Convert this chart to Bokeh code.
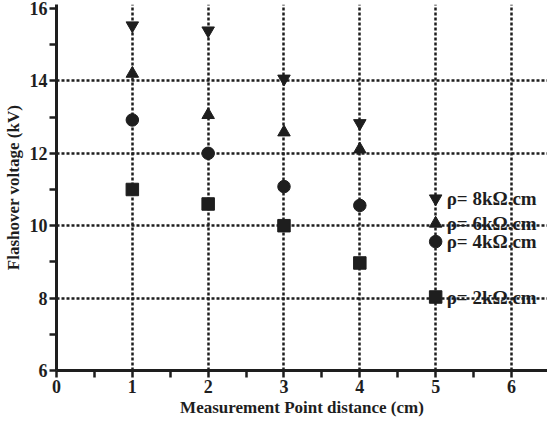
from bokeh.plotting import figure
from bokeh.models import FixedTicker, Range1d
from bokeh.core.properties import value
from bokeh.embed import file_html
from bokeh.resources import INLINE

# Data
distance = [1, 2, 3, 4]
v_8k = [15.53, 15.39, 14.06, 12.83]
v_6k = [14.2, 13.06, 12.58, 12.11]
v_4k = [12.92, 12.0, 11.08, 10.56]
v_2k = [11.0, 10.6, 10.0, 8.97]

series_labels = ["ρ= 8kΩ.cm", "ρ= 6kΩ.cm", "ρ= 4kΩ.cm", "ρ= 2kΩ.cm"]
series_markers = ["inverted_triangle", "triangle", "circle", "square"]
legend_x = 5
legend_y = [10.75, 10.06, 9.56, 8.03]

x_ticks = [0, 1, 2, 3, 4, 5, 6]
x_minor = [0.5, 1.5, 2.5, 3.5, 4.5, 5.5, 6.5]
y_ticks = [6, 8, 10, 12, 14, 16]
y_minor = [7, 9, 11, 13, 15]
x_grid = [1, 2, 3, 4, 5, 6]
y_grid = [8, 10, 12, 14]

FONT = "Liberation Serif"
INK = "#1e1e1e"

p = figure(frame_width=491, frame_height=366, output_backend="svg", toolbar_location=None,
           x_range=Range1d(0, 6.475), y_range=Range1d(6, 16.11),
           min_border_left=51, min_border_right=0, min_border_top=4, min_border_bottom=20)
p.outline_line_color = None
p.background_fill_color = "white"

for ax in (p.xaxis[0], p.yaxis[0]):
    ax.axis_line_width = 3
    ax.axis_line_color = INK
    ax.major_tick_line_width = 2.5
    ax.minor_tick_line_width = 2.5
    ax.major_tick_line_color = INK
    ax.minor_tick_line_color = INK
    ax.major_tick_in = 0
    ax.minor_tick_in = 0
    ax.major_tick_out = 7
    ax.minor_tick_out = 7
    ax.major_label_text_font = FONT
    ax.major_label_text_font_style = "bold"
    ax.major_label_text_font_size = "18px"
    ax.major_label_text_color = INK
    ax.axis_label_text_font = FONT
    ax.axis_label_text_font_style = "bold"
    ax.axis_label_text_font_size = "17px"
    ax.axis_label_text_color = INK

p.xaxis[0].ticker = FixedTicker(ticks=x_ticks, minor_ticks=x_minor)
p.yaxis[0].ticker = FixedTicker(ticks=y_ticks, minor_ticks=y_minor)
p.xaxis[0].major_label_standoff = 2
p.yaxis[0].major_label_standoff = 2
p.xaxis[0].axis_label = "Measurement Point distance (cm)"
p.yaxis[0].axis_label = "Flashover voltage (kV)"
p.xaxis[0].axis_label_standoff = 2
p.yaxis[0].axis_label_standoff = 4

p.xgrid[0].ticker = FixedTicker(ticks=x_grid)
p.ygrid[0].ticker = FixedTicker(ticks=y_grid)
for g in (p.xgrid[0], p.ygrid[0]):
    g.grid_line_color = INK
    g.grid_line_width = 2.5
    g.grid_line_dash = "3 2"

for vals, marker in zip([v_8k, v_6k, v_4k, v_2k], series_markers):
    p.scatter(distance, vals, marker=marker, size=12.5, color=INK)

for ly, marker, lab in zip(legend_y, series_markers, series_labels):
    p.scatter([legend_x], [ly], marker=marker, size=12.5, color=INK)
    p.text([legend_x], [ly], text=[lab], x_offset=11, text_baseline="middle",
           text_font=value(FONT), text_font_style="bold", text_font_size="19px",
           text_color=INK)

open("out.html", "w").write(file_html(p, INLINE))
